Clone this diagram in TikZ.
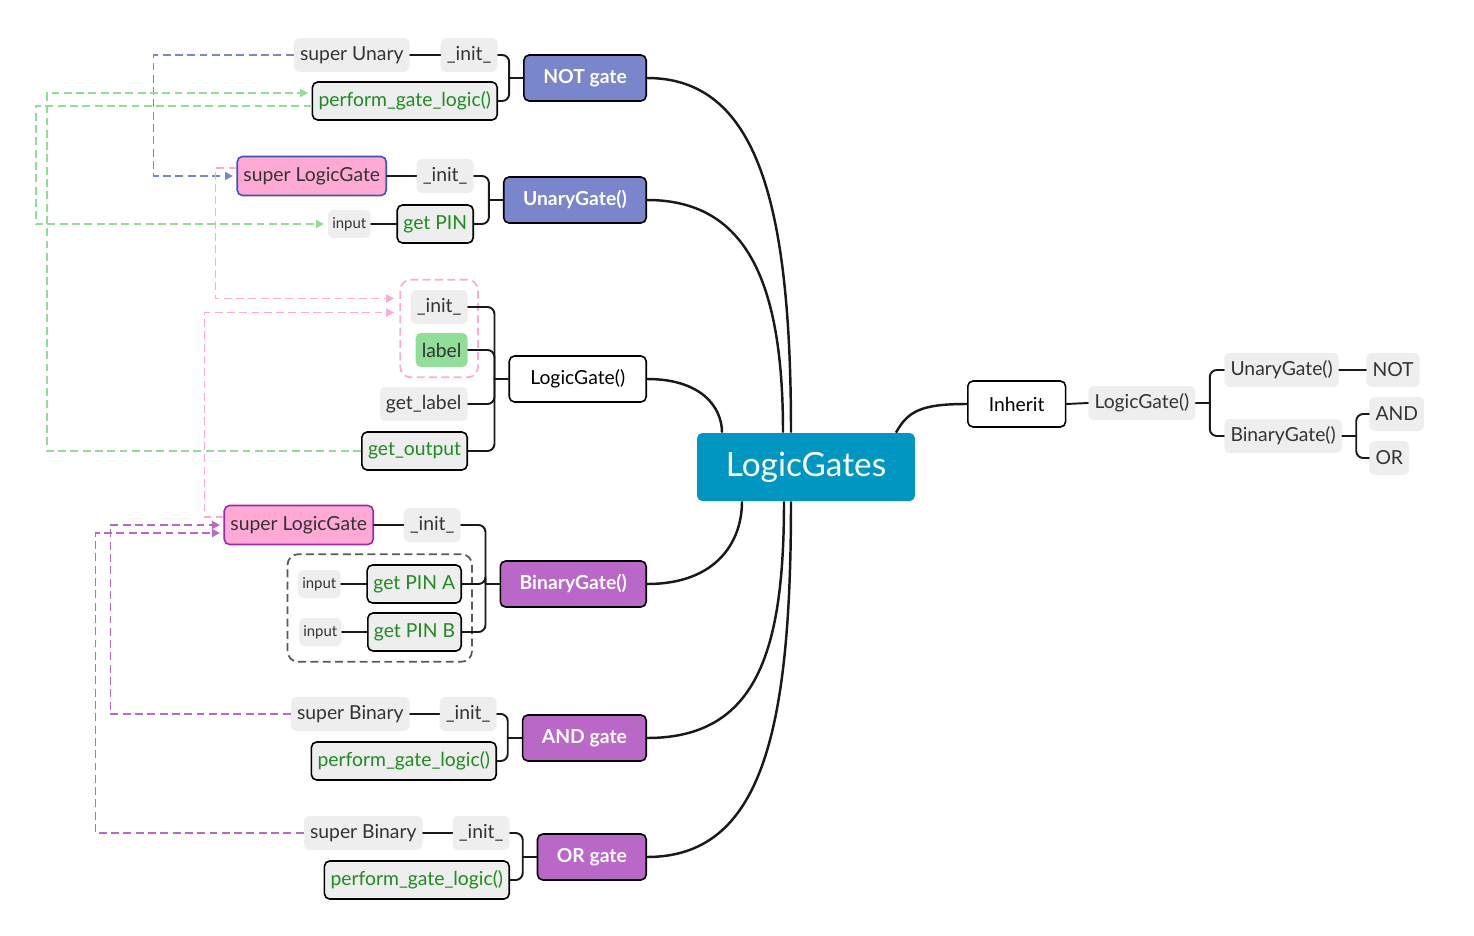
\documentclass[tikz,border=0pt]{standalone}
\usepackage{fontspec}
\setmainfont{Lato}
\usetikzlibrary{shapes,arrows.meta,fit}
\definecolor{rootblue}{HTML}{0096C2}
\definecolor{unary}{HTML}{7986CB}
\definecolor{binary}{HTML}{BA68C8}
\definecolor{pinkfill}{HTML}{FFAAD5}
\definecolor{lgreen}{HTML}{90DE98}
\definecolor{mgreen}{HTML}{1E8C1E}
\definecolor{leafgray}{HTML}{EEEEEE}
\definecolor{txtgray}{HTML}{333333}
\definecolor{supblue}{HTML}{3F51B5}
\definecolor{suppurple}{HTML}{9C27B0}

\begin{document}
\begin{tikzpicture}[x=0.02cm,y=-0.02cm]
    \tikzstyle{leaf}=[rounded corners=3pt,fill=leafgray,text=txtgray,minimum height=0.68cm,inner xsep=3.5pt,inner ysep=0pt,font=\fontsize{11}{13}\selectfont]
    \tikzstyle{small}=[leaf,minimum height=0.56cm,inner xsep=2.5pt,font=\fontsize{8.5}{10}\selectfont]
    \tikzstyle{method}=[leaf,draw=black,line width=0.9pt,text=mgreen,minimum height=0.76cm,inner xsep=3.5pt]
    \tikzstyle{super}=[leaf,fill=pinkfill,line width=0.9pt,minimum height=0.78cm,inner xsep=3.5pt]
    \tikzstyle{gate}=[rounded corners=3pt,draw=black,line width=0.9pt,text=white,minimum height=0.92cm,inner xsep=11pt,font=\bfseries\fontsize{11}{13}\selectfont]
    \tikzstyle{basebox}=[gate,fill=white,text=black,inner xsep=12pt,font=\fontsize{11}{13}\selectfont]
    \tikzstyle{rootbox}=[rounded corners=3pt,fill=rootblue,text=white,minimum width=4.36cm,minimum height=1.36cm,font=\fontsize{19}{22}\selectfont]
    \tikzstyle{group}=[rounded corners=6pt,dash pattern=on 4.5pt off 2.5pt,line width=1pt,inner sep=0.2cm]
    \tikzstyle{link}=[line width=1.1pt,black!90,rounded corners=4pt,line cap=round]
    \tikzstyle{trunk}=[line width=1.4pt,black!90]
    \tikzstyle{ref}=[dash pattern=on 4.5pt off 2.5pt,line width=1.1pt,-{Triangle[length=4.5pt,width=4.5pt]},shorten >=2pt]

    \useasboundingbox (0,0) rectangle (1474,936);

    \node(root) [rootbox] at (806,467) {LogicGates};

    % gates on the left
    \node(notg) [gate,fill=unary,anchor=east] at (647,78) {NOT gate};
    \node(unig) [gate,fill=unary,anchor=east] at (647,200) {UnaryGate()};
    \node(lgg) [basebox,anchor=east] at (647,379) {LogicGate()};
    \node(bing) [gate,fill=binary,anchor=east] at (647,584) {BinaryGate()};
    \node(andg) [gate,fill=binary,anchor=east] at (647,738) {AND gate};
    \node(org) [gate,fill=binary,anchor=east] at (647,857) {OR gate};

    % NOT gate
    \node(ninit) [leaf,anchor=east] at (498,55) {\_init\_};
    \node(nsup) [leaf,anchor=east] at (410,55) {super Unary};
    \node(nperf) [method,anchor=east] at (498,101) {perform\_gate\_logic()};

    % UnaryGate
    \node(uinit) [leaf,anchor=east] at (474,176) {\_init\_};
    \node(usup) [super,draw=supblue,anchor=east] at (387,176) {super LogicGate};
    \node(upin) [method,anchor=east] at (474,224) {get PIN};
    \node(uin) [small,anchor=east] at (371,224) {input};

    % LogicGate
    \node(linit) [leaf,anchor=east] at (468,307) {\_init\_};
    \node(llab) [leaf,fill=lgreen,anchor=east] at (468,350) {label};
    \node(lget) [leaf,anchor=east] at (468,404) {get\_label};
    \node(lout) [method,anchor=east] at (468,451) {get\_output};
    \node(lgrp) [group,draw=pinkfill,fit=(linit)(llab)] {};

    % BinaryGate
    \node(binit) [leaf,anchor=east] at (461,525) {\_init\_};
    \node(bsup) [super,draw=suppurple,anchor=east] at (374,525) {super LogicGate};
    \node(bpina) [method,anchor=east] at (462,584) {get PIN A};
    \node(bina) [small,anchor=east] at (341,584) {input};
    \node(bpinb) [method,anchor=east] at (462,632) {get PIN B};
    \node(binb) [small,anchor=east] at (342,632) {input};
    \node(bgrp) [group,draw=black!65,fit=(bina)(bpina)(bpinb)(binb)] {};

    % AND gate
    \node(ainit) [leaf,anchor=east] at (497,714) {\_init\_};
    \node(asup) [leaf,anchor=east] at (410,714) {super Binary};
    \node(aperf) [method,anchor=east] at (497,761) {perform\_gate\_logic()};

    % OR gate
    \node(oinit) [leaf,anchor=east] at (510,833) {\_init\_};
    \node(osup) [leaf,anchor=east] at (423,833) {super Binary};
    \node(operf) [method,anchor=east] at (510,880) {perform\_gate\_logic()};

    % inheritance on the right
    \node(inh) [basebox,anchor=west] at (967,404) {Inherit};
    \node(rlg) [leaf,anchor=west] at (1088,403) {LogicGate()};
    \node(runi) [leaf,anchor=west] at (1224,370) {UnaryGate()};
    \node(rnot) [leaf,anchor=west] at (1366,370) {NOT};
    \node(rbin) [leaf,anchor=west] at (1224,436) {BinaryGate()};
    \node(rand) [leaf,anchor=west] at (1369,414) {AND};
    \node(ror) [leaf,anchor=west] at (1369,458) {OR};

    % root branches
    \draw [trunk] (notg.east) .. controls +(110,0) and +(0,-230) .. ([xshift=-0.3cm]root.north);
    \draw [trunk] (unig.east) .. controls +(100,0) and +(0,-150) .. ([xshift=-0.46cm]root.north);
    \draw [trunk] (lgg.east) .. controls +(55,0) and +(0,-25) .. ([xshift=-1.68cm]root.north);
    \draw [trunk] (bing.east) .. controls +(70,0) and +(0,40) .. ([xshift=-1.28cm]root.south);
    \draw [trunk] (andg.east) .. controls +(110,0) and +(0,150) .. ([xshift=-0.44cm]root.south);
    \draw [trunk] (org.east) .. controls +(115,0) and +(0,230) .. ([xshift=-0.3cm]root.south);
    \draw [trunk] ([xshift=1.8cm]root.north) .. controls +(12,-22) and +(-45,0) .. (inh.west);

    % brackets
    \draw [link] (notg.west) -- ++(-0.28cm,0);
    \draw [link] (ninit.east) -| ([xshift=-0.28cm]notg.west);
    \draw [link] (nperf.east) -| ([xshift=-0.28cm]notg.west);
    \draw [link] (nsup.east) -- (ninit.west);

    \draw [link] (unig.west) -- ++(-0.28cm,0);
    \draw [link] (uinit.east) -| ([xshift=-0.28cm]unig.west);
    \draw [link] (upin.east) -| ([xshift=-0.28cm]unig.west);
    \draw [link] (usup.east) -- (uinit.west);
    \draw [link] (uin.east) -- (upin.west);

    \draw [link] (lgg.west) -- ++(-0.28cm,0);
    \draw [link] (linit.east) -| ([xshift=-0.28cm]lgg.west);
    \draw [link] (llab.east) -| ([xshift=-0.28cm]lgg.west);
    \draw [link] (lget.east) -| ([xshift=-0.28cm]lgg.west);
    \draw [link] (lout.east) -| ([xshift=-0.28cm]lgg.west);

    \draw [link] (bing.west) -- ++(-0.28cm,0);
    \draw [link] (binit.east) -| ([xshift=-0.28cm]bing.west);
    \draw [link] (bpina.east) -| ([xshift=-0.28cm]bing.west);
    \draw [link] (bpinb.east) -| ([xshift=-0.28cm]bing.west);
    \draw [link] (bsup.east) -- (binit.west);
    \draw [link] (bina.east) -- (bpina.west);
    \draw [link] (binb.east) -- (bpinb.west);

    \draw [link] (andg.west) -- ++(-0.28cm,0);
    \draw [link] (ainit.east) -| ([xshift=-0.28cm]andg.west);
    \draw [link] (aperf.east) -| ([xshift=-0.28cm]andg.west);
    \draw [link] (asup.east) -- (ainit.west);

    \draw [link] (org.west) -- ++(-0.28cm,0);
    \draw [link] (oinit.east) -| ([xshift=-0.28cm]org.west);
    \draw [link] (operf.east) -| ([xshift=-0.28cm]org.west);
    \draw [link] (osup.east) -- (oinit.west);

    \draw [link] (inh.east) -- (rlg.west);
    \draw [link] (rlg.east) -- ++(0.28cm,0);
    \draw [link] (runi.west) -| ([xshift=0.28cm]rlg.east);
    \draw [link] (rbin.west) -| ([xshift=0.28cm]rlg.east);
    \draw [link] (runi.east) -- (rnot.west);
    \draw [link] (rbin.east) -- ++(0.28cm,0);
    \draw [link] (rand.west) -| ([xshift=0.28cm]rbin.east);
    \draw [link] (ror.west) -| ([xshift=0.28cm]rbin.east);

    % super calls and references
    \draw [ref,unary] (nsup.west) -- ++(-140,0) |- (usup.west);
    \draw [ref,lgreen] (lout.west) -- ++(-314,0) |- ([yshift=0.16cm]nperf.west);
    \draw [ref,lgreen] ([yshift=-0.1cm]nperf.west) -- ++(-276,0) |- (uin.west);
    \draw [ref,pinkfill,shorten >=3pt] ([yshift=0.16cm]usup.west) -- ++(-21,0) |- ([yshift=0.6cm]lgrp.west);
    \draw [ref,pinkfill,shorten >=3pt] ([yshift=0.16cm]bsup.west) -- ++(-19,0) |- ([yshift=0.32cm]lgrp.west);
    \draw [ref,binary] (asup.west) -- ++(-180,0) |- (bsup.west);
    \draw [ref,binary] (osup.west) -- ++(-208,0) |- ([yshift=-0.16cm]bsup.west);

\end{tikzpicture}
\end{document}
